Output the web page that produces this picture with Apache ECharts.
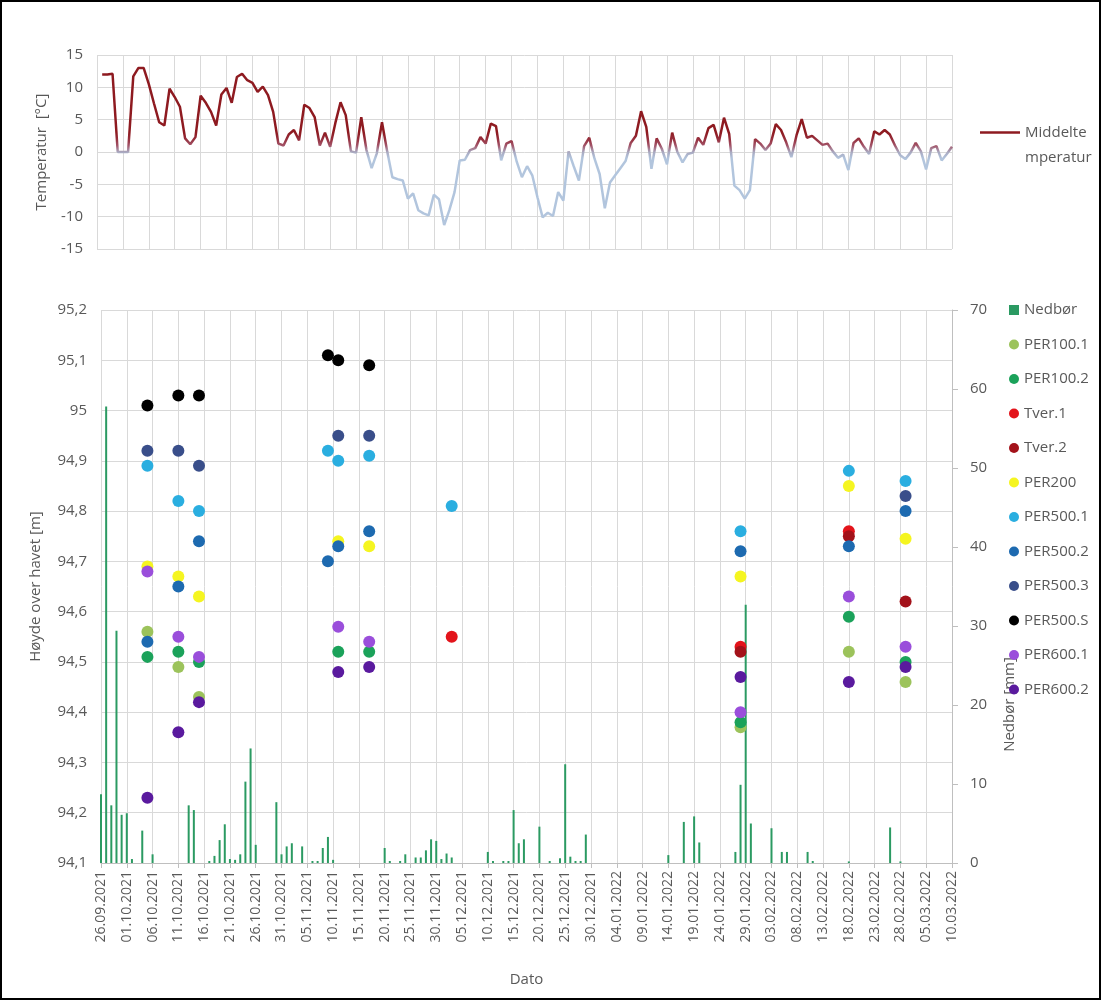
<!DOCTYPE html>
<html><head><meta charset="utf-8">
<script src="https://cdn.jsdelivr.net/npm/echarts@6/dist/echarts.min.js"></script>
<style>html,body{margin:0;padding:0;background:#fff}
#c{width:1101px;height:1000px;position:absolute;left:0;top:0}
#frame{position:absolute;left:0;top:0;width:1101px;height:1000px;box-sizing:border-box;border:2px solid #000;pointer-events:none}
</style></head><body><div id="c"></div><div id="frame"></div>
<script>
// ---- categories (daily, 26.09.2021 .. 10.03.2022) ----
const startDate = [2021, 8, 26];
const dayCount = 166;
const dates = [];
for (let i = 0; i < dayCount; i++) {
  const d = new Date(Date.UTC(startDate[0], startDate[1], startDate[2] + i));
  const dd = String(d.getUTCDate()).padStart(2, '0');
  const mm = String(d.getUTCMonth() + 1).padStart(2, '0');
  dates.push(dd + '.' + mm + '.' + d.getUTCFullYear());
}

// ---- daily mean temperature [°C] ----
const temperature = [null,
 12.0,12.0,12.1,0,0,0,11.7,13.0,13.0,10.5,
 7.5,4.6,4.1,9.8,8.5,7.0,2.1,1.2,2.3,8.7,
 7.6,6.2,4.1,8.9,9.9,7.6,11.6,12.1,11.1,10.7,
 9.3,10.1,8.8,6.2,1.3,1.0,2.7,3.4,1.8,7.3,
 6.8,5.4,1.0,3.0,0.8,4.5,7.7,5.7,0.1,-0.1,
 5.4,0.3,-2.5,-0.2,4.6,0.1,-3.9,-4.2,-4.4,-7.2,
 -6.4,-9.0,-9.5,-9.8,-6.6,-7.3,-11.3,-9.0,-6.2,-1.3,
 -1.2,0.3,0.6,2.3,1.3,4.4,4.0,-1.3,1.3,1.7,
 -1.5,-3.9,-2.2,-3.6,-7.0,-10.1,-9.4,-9.9,-6.2,-7.5,
 0.1,-2.2,-4.4,0.9,2.2,-1.0,-3.4,-8.7,-4.7,-3.6,
 -2.5,-1.4,1.4,2.5,6.3,3.9,-2.6,2.1,0.5,-1.9,
 3.0,0.0,-1.6,-0.3,-0.1,2.2,1.1,3.7,4.2,1.5,
 5.3,2.8,-5.2,-5.9,-7.2,-5.9,2.0,1.3,0.3,1.3,
 4.3,3.4,1.5,-0.8,2.6,5.1,2.2,2.5,1.8,1.1,
 1.3,0.1,-0.9,-0.4,-2.8,1.4,2.1,0.8,-0.3,3.2,
 2.7,3.4,2.7,1.0,-0.5,-1.1,-0.1,1.4,0.1,-2.7,
 0.6,0.9,-1.3,-0.3,0.8];

// ---- daily precipitation [mm] (day index : value) ----
const precipDays = [0,1,2,3,4,5,6,8,10,17,18,21,22,23,24,25,26,27,28,29,30,34,35,36,37,39,41,42,43,44,45,
  55,56,58,59,61,62,63,64,65,66,67,68,75,76,78,79,80,81,82,85,87,89,90,91,92,93,94,
  110,113,115,116,123,124,125,126,130,132,133,137,138,145,153,155];
const precipVals = [8.7,57.8,7.3,29.4,6.1,6.3,0.5,4.1,1.1,7.3,6.7,0.25,0.9,2.9,4.9,0.5,0.4,1.1,10.3,14.5,2.3,7.7,1.1,2.1,2.5,2.1,0.25,0.25,1.9,3.3,0.4,
  1.9,0.25,0.25,1.1,0.7,0.7,1.6,3.0,2.8,0.5,1.2,0.7,1.4,0.25,0.25,0.25,6.7,2.5,3.0,4.6,0.25,0.6,12.5,0.8,0.25,0.25,3.6,
  1.0,5.2,5.9,2.6,1.4,9.9,32.7,5.0,4.4,1.4,1.4,1.4,0.25,0.2,4.5,0.2];

// ---- levels [m o.h.] ----
const PER100_1 = [['05.10.2021',94.56],['11.10.2021',94.49],['15.10.2021',94.43],['28.01.2022',94.37],['18.02.2022',94.52],['01.03.2022',94.46]];
const PER100_2 = [['05.10.2021',94.51],['11.10.2021',94.52],['15.10.2021',94.50],['11.11.2021',94.52],['17.11.2021',94.52],['28.01.2022',94.38],['18.02.2022',94.59],['01.03.2022',94.50]];
const TVER_1 = [['03.12.2021',94.55],['28.01.2022',94.53],['18.02.2022',94.76]];
const TVER_2 = [['28.01.2022',94.52],['18.02.2022',94.75],['01.03.2022',94.62]];
const PER200 = [['05.10.2021',94.69],['11.10.2021',94.67],['15.10.2021',94.63],['11.11.2021',94.74],['17.11.2021',94.73],['28.01.2022',94.67],['18.02.2022',94.85],['01.03.2022',94.745]];
const PER500_1 = [['05.10.2021',94.89],['11.10.2021',94.82],['15.10.2021',94.80],['09.11.2021',94.92],['11.11.2021',94.90],['17.11.2021',94.91],['03.12.2021',94.81],['28.01.2022',94.76],['18.02.2022',94.88],['01.03.2022',94.86]];
const PER500_2 = [['05.10.2021',94.54],['11.10.2021',94.65],['15.10.2021',94.74],['09.11.2021',94.70],['11.11.2021',94.73],['17.11.2021',94.76],['28.01.2022',94.72],['18.02.2022',94.73],['01.03.2022',94.80]];
const PER500_3 = [['05.10.2021',94.92],['11.10.2021',94.92],['15.10.2021',94.89],['11.11.2021',94.95],['17.11.2021',94.95],['01.03.2022',94.83]];
const PER500_S = [['05.10.2021',95.01],['11.10.2021',95.03],['15.10.2021',95.03],['09.11.2021',95.11],['11.11.2021',95.10],['17.11.2021',95.09]];
const PER600_1 = [['05.10.2021',94.68],['11.10.2021',94.55],['15.10.2021',94.51],['11.11.2021',94.57],['17.11.2021',94.54],['28.01.2022',94.40],['18.02.2022',94.63],['01.03.2022',94.53]];
const PER600_2 = [['05.10.2021',94.23],['11.10.2021',94.36],['15.10.2021',94.42],['11.11.2021',94.48],['17.11.2021',94.49],['28.01.2022',94.47],['18.02.2022',94.46],['01.03.2022',94.49]];

const scatterNames = ['PER100.1','PER100.2','Tver.1','Tver.2','PER200','PER500.1','PER500.2','PER500.3','PER500.S','PER600.1','PER600.2'];
const scatterData = [PER100_1,PER100_2,TVER_1,TVER_2,PER200,PER500_1,PER500_2,PER500_3,PER500_S,PER600_1,PER600_2];
const scatterColors = ['#9CC35B','#1BA25A','#E3141B','#A3121A','#F5F520','#2AAEE0','#1D6AB0','#394E8A','#000000','#9A4EDB','#5A1A9E'];

const precipitation = new Array(dayCount).fill(0);
precipDays.forEach((d, i) => { precipitation[d] = precipVals[i]; });

const FONT = 'Open Sans';
const TXT = '#595959';
const GRID = '#D9D9D9';

// colour ramp for temperature line: blue below 0, red above
const ramp = [];
for (let t = -15; t <= 15; t++) {
  if (t < 0) ramp.push('#B2C5DD');
  else if (t === 0) ramp.push('#A9A9C0');
  else if (t === 1) ramp.push('#A25468');
  else if (t === 2) ramp.push('#962E3C');
  else ramp.push('#8E1A20');
}

const chart = echarts.init(document.getElementById('c'), null, {renderer: 'canvas'});
const series = [{
  name: 'Middeltemperatur', type: 'line', xAxisIndex: 0, yAxisIndex: 0,
  data: temperature, showSymbol: false, symbol: 'none', connectNulls: false,
  lineStyle: {width: 2.5}
}, {
  name: 'Nedbør', type: 'bar', xAxisIndex: 1, yAxisIndex: 2,
  data: precipitation, barWidth: 2, itemStyle: {color: '#2B9A62'}
}];
scatterNames.forEach((n, i) => {
  series.push({name: n, type: 'scatter', xAxisIndex: 1, yAxisIndex: 1,
    data: scatterData[i], symbolSize: 12, itemStyle: {color: scatterColors[i], opacity: 1}});
});

const legendBottom = [{name: 'Nedbør', icon: 'rect'}].concat(scatterNames.map(n => ({name: n, icon: 'circle'})));

chart.setOption({
  animation: false,
  backgroundColor: '#fff',
  textStyle: {fontFamily: FONT},
  grid: [
    {left: 97, right: 149, top: 55, height: 194},
    {left: 101, right: 149, top: 310, height: 553}
  ],
  visualMap: [{
    type: 'continuous', show: false, seriesIndex: 0, dimension: 1,
    min: -15, max: 15, inRange: {color: ramp}
  }],
  legend: [{
    data: [{name: 'Middeltemperatur', icon: 'rect', itemStyle: {color: '#8E1A20'}}],
    left: 975, top: 90, itemWidth: 40, itemHeight: 2.5, itemGap: 0,
    formatter: () => ' \nMiddelte\nmperatur',
    textStyle: {fontFamily: FONT, fontSize: 15, color: TXT, lineHeight: 25}
  }, {
    data: legendBottom, orient: 'vertical', left: 1004, top: 295,
    itemWidth: 10, itemHeight: 10, itemGap: 14.5,
    textStyle: {fontFamily: FONT, fontSize: 15, color: TXT, lineHeight: 20}
  }],
  xAxis: [{
    type: 'category', gridIndex: 0, data: dates, boundaryGap: false,
    axisLabel: {show: false}, axisTick: {show: false}, axisLine: {show: false},
    splitLine: {show: true, interval: 4, lineStyle: {color: GRID, width: 1}}
  }, {
    type: 'category', gridIndex: 1, data: dates, boundaryGap: false,
    axisLabel: {rotate: 90, interval: 4, fontSize: 14, color: TXT, fontFamily: FONT, margin: 8},
    axisTick: {show: true, interval: 4, length: 5, lineStyle: {color: '#BFBFBF'}},
    axisLine: {lineStyle: {color: '#BFBFBF'}},
    splitLine: {show: true, interval: 4, lineStyle: {color: GRID, width: 1}},
    name: 'Dato', nameLocation: 'middle', nameGap: 109,
    nameTextStyle: {fontSize: 15, color: TXT, fontFamily: FONT}
  }],
  yAxis: [{
    type: 'value', gridIndex: 0, min: -15, max: 15, interval: 5,
    axisLabel: {fontSize: 15, color: TXT, fontFamily: FONT, margin: 14},
    axisLine: {show: false}, axisTick: {show: false},
    splitLine: {lineStyle: {color: GRID}},
    name: 'Temperatur  [°C]', nameLocation: 'middle', nameGap: 48,
    nameTextStyle: {fontSize: 15, color: TXT, fontFamily: FONT}
  }, {
    type: 'value', gridIndex: 1, min: 94.1, max: 95.2, interval: 0.1,
    axisLabel: {fontSize: 15, color: TXT, fontFamily: FONT, margin: 14,
      formatter: v => String(Math.round(v * 10) / 10).replace('.', ',')},
    axisLine: {show: false}, axisTick: {show: false},
    splitLine: {lineStyle: {color: GRID}},
    name: 'Høyde over havet [m]', nameLocation: 'middle', nameGap: 58,
    nameTextStyle: {fontSize: 15, color: TXT, fontFamily: FONT}
  }, {
    type: 'value', gridIndex: 1, position: 'right', min: 0, max: 70, interval: 10,
    axisLabel: {fontSize: 15, color: TXT, fontFamily: FONT, margin: 18},
    axisLine: {show: true, lineStyle: {color: '#BFBFBF'}},
    axisTick: {show: true, length: 6, lineStyle: {color: '#BFBFBF'}},
    splitLine: {show: false},
    name: 'Nedbør [mm]', nameLocation: 'middle', nameGap: 50,
    nameTextStyle: {fontSize: 15, color: TXT, fontFamily: FONT, padding: [0, 236, 0, 0]}
  }],
  series: series
});
</script></body></html>
